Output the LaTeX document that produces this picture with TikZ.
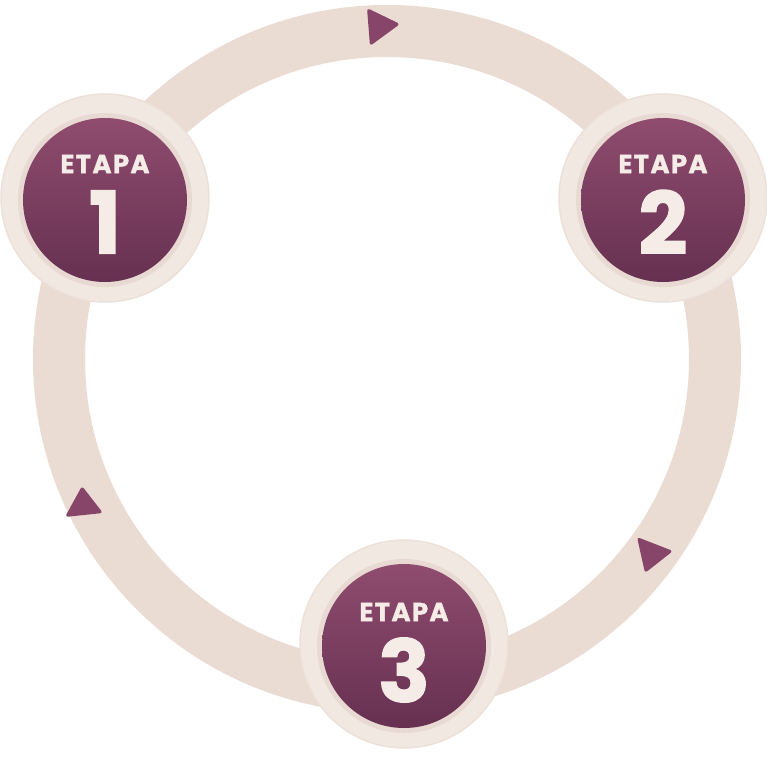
\documentclass[tikz,border=0pt]{standalone}
\usepackage{fontspec}
\setmainfont{Poppins}
\definecolor{ringc}{HTML}{EADBD3}
\definecolor{haloc}{HTML}{F2E8E2}
\definecolor{haloedge}{HTML}{EDE0D9}
\definecolor{shadowc}{HTML}{DCC8C0}
\definecolor{disctop}{HTML}{8F4C6F}
\definecolor{discbot}{HTML}{663050}
\definecolor{textc}{HTML}{F5ECE7}
\definecolor{arrowc}{HTML}{874669}
\tikzset{
  halo/.style={circle, minimum size=208pt, inner sep=0pt, fill=haloc, draw=haloedge, line width=1.5pt},
  shadowdisc/.style={circle, minimum size=174pt, inner sep=0pt, fill=shadowc, opacity=0.45},
  disc/.style={circle, minimum size=164pt, inner sep=0pt, top color=disctop, bottom color=discbot},
  etapa/.style={text=textc, font=\bfseries\fontsize{26}{26}\selectfont\addfontfeatures{LetterSpace=5,FakeBold=1.3}},
  num/.style={text=textc, font=\bfseries\fontsize{86}{86}\selectfont\addfontfeatures{FakeBold=1.5}},
  tri/.style={fill=arrowc, rounded corners=3pt}
}
\begin{document}
\begin{tikzpicture}[x=1pt,y=-1pt]
\useasboundingbox (0,0) rectangle (767,769);
\fill[white] (0,0) rectangle (767,769);
% ring
\coordinate (c) at (387,359);
\draw[ringc, line width=52pt] (c) circle[radius=328];
% direction arrows
\fill[tri] (367,8) -- (400,24) -- (370,46) -- cycle;
\fill[tri] (637,537) -- (673,551) -- (645,573) -- cycle;
\fill[tri] (82,486) -- (103,513) -- (65,517) -- cycle;
% stage 1
\node[halo] (h1) at (105,198) {};
\node[shadowdisc] (s1) at (105,200) {};
\node[disc] (d1) at (105,200) {};
\node[etapa] (e1) at (105,164) {ETAPA};
\node[num] (n1) at (105,222) {1};
% stage 2
\node[halo] (h2) at (663,198) {};
\node[shadowdisc] (s2) at (663,200) {};
\node[disc] (d2) at (663,200) {};
\node[etapa] (e2) at (663,164) {ETAPA};
\node[num] (n2) at (663,222) {2};
% stage 3
\node[halo] (h3) at (404,644) {};
\node[shadowdisc] (s3) at (404,646) {};
\node[disc] (d3) at (404,646) {};
\node[etapa] (e3) at (404,612) {ETAPA};
\node[num] (n3) at (404,670) {3};
\end{tikzpicture}
\end{document}
